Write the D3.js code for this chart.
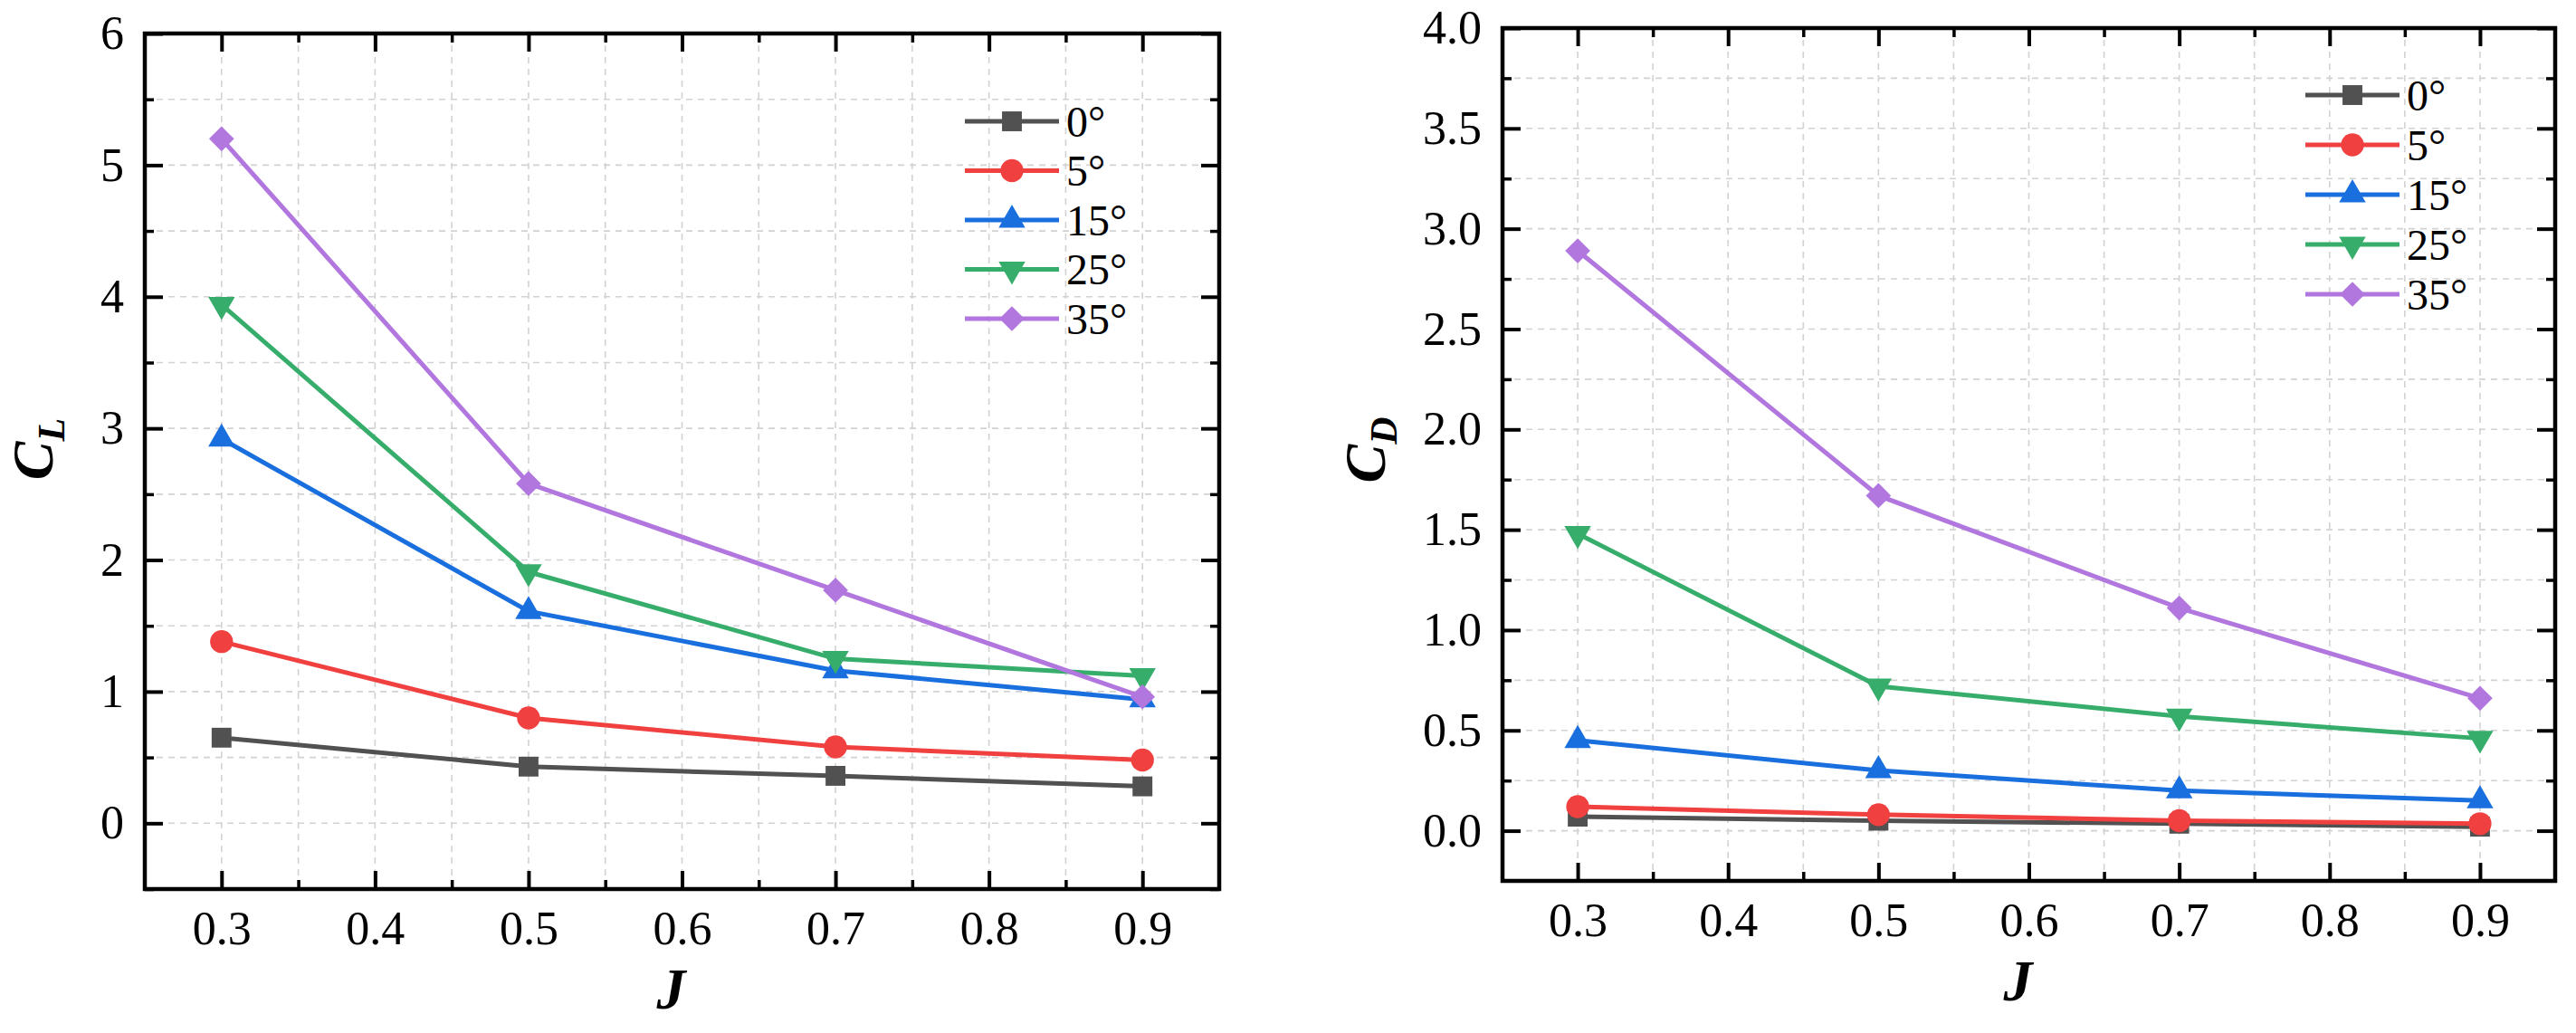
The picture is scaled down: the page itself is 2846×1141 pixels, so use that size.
<!DOCTYPE html>
<html>
<head>
<meta charset="utf-8">
<script src="https://cdn.jsdelivr.net/npm/d3@7"></script>
<style>
  body { margin: 0; background: #fff; }
  svg text { font-family: "Liberation Serif", "Times New Roman", serif; fill: #000; }
</style>
</head>
<body>
<div id="chart"></div>
<script>
// advance ratio J and the flap angles
const J = [0.3, 0.5, 0.7, 0.9];
const angles = ["0°", "5°", "15°", "25°", "35°"];
const colors = ["#515151", "#F14040", "#1A6FDF", "#37AD6B", "#B177DE"];

// lift coefficient, one array per angle
const CL_0 = [0.65, 0.43, 0.36, 0.28];
const CL_5 = [1.38, 0.80, 0.58, 0.48];
const CL_15 = [2.92, 1.61, 1.16, 0.94];
const CL_25 = [3.94, 1.91, 1.25, 1.12];
const CL_35 = [5.20, 2.58, 1.77, 0.96];

// drag coefficient
const CD_0 = [0.07, 0.05, 0.035, 0.02];
const CD_5 = [0.12, 0.08, 0.05, 0.035];
const CD_15 = [0.45, 0.30, 0.20, 0.15];
const CD_25 = [1.48, 0.72, 0.57, 0.46];
const CD_35 = [2.89, 1.67, 1.11, 0.66];

// ticks
const jTicks = [0.3, 0.4, 0.5, 0.6, 0.7, 0.8, 0.9];
const jMinor = [0.35, 0.45, 0.55, 0.65, 0.75, 0.85];
const clTicks = [0, 1, 2, 3, 4, 5, 6];
const clMinor = [-0.5, 0.5, 1.5, 2.5, 3.5, 4.5, 5.5];
const cdTicks = [0, 0.5, 1, 1.5, 2, 2.5, 3, 3.5, 4];
const cdMinor = [0.25, 0.75, 1.25, 1.75, 2.25, 2.75, 3.25, 3.75];

const W = 2846, H = 1141;
const FONT = '"Liberation Serif", "Times New Roman", serif';
const svg = d3.select("#chart").append("svg")
    .attr("width", W).attr("height", H);

function marker(i, size) {
    if (i == 0) return d3.symbol(d3.symbolSquare, size)();
    if (i == 1) return d3.symbol(d3.symbolCircle, size * 1.05)();
    if (i == 2 || i == 3) return d3.symbol(d3.symbolTriangle, size * 0.78)();
    return d3.symbol(d3.symbolSquare, size * 0.8)();
}
function markerRot(i) {
    if (i == 3) return " rotate(180)";
    if (i == 4) return " rotate(45)";
    return "";
}

function panel(opt) {
    const x = d3.scaleLinear().domain([0.25, 0.95]).range([opt.left, opt.right]);
    const y = d3.scaleLinear().domain(opt.yDomain).range([opt.bottom, opt.top]);
    const g = svg.append("g");

    // dashed grid
    const grid = g.append("g");
    grid.selectAll("line.v").data(jTicks.concat(jMinor)).enter().append("line")
        .attr("x1", d => x(d)).attr("x2", d => x(d))
        .attr("y1", opt.top).attr("y2", opt.bottom);
    grid.selectAll("line.h").data(opt.yTicks.concat(opt.yMinor)
            .filter(d => d > opt.yDomain[0] && d < opt.yDomain[1])).enter().append("line")
        .attr("x1", opt.left).attr("x2", opt.right)
        .attr("y1", d => y(d)).attr("y2", d => y(d));
    grid.selectAll("line")
        .attr("stroke", "#d2d2d2").attr("stroke-width", 1.6)
        .attr("stroke-dasharray", "7,6");

    // axes with inward ticks
    const h = opt.bottom - opt.top;
    const w = opt.right - opt.left;
    function styleAxis(sel, width) {
        sel.attr("font-family", FONT);
        sel.select(".domain").remove();
        sel.selectAll(".tick line").attr("stroke", "#000").attr("stroke-width", width);
        sel.selectAll("text").style("font-size", "52px").style("font-family", FONT).attr("fill", "#000");
    }
    g.append("g").attr("transform", `translate(0,${opt.bottom})`)
        .call(d3.axisBottom(x).tickValues(jTicks).tickSize(-20).tickPadding(24).tickFormat(d3.format(".1f")))
        .call(s => styleAxis(s, 4));
    g.append("g").attr("transform", `translate(0,${opt.bottom})`)
        .call(d3.axisBottom(x).tickValues(jMinor).tickSize(-10).tickFormat(""))
        .call(s => styleAxis(s, 3.5));
    g.append("g").attr("transform", `translate(0,${opt.top})`)
        .call(d3.axisTop(x).tickValues(jTicks).tickSize(-20).tickFormat(""))
        .call(s => styleAxis(s, 4));
    g.append("g").attr("transform", `translate(0,${opt.top})`)
        .call(d3.axisTop(x).tickValues(jMinor).tickSize(-10).tickFormat(""))
        .call(s => styleAxis(s, 3.5));
    g.append("g").attr("transform", `translate(${opt.left},0)`)
        .call(d3.axisLeft(y).tickValues(opt.yTicks).tickSize(-20).tickPadding(23).tickFormat(opt.fmt))
        .call(s => styleAxis(s, 4));
    g.append("g").attr("transform", `translate(${opt.left},0)`)
        .call(d3.axisLeft(y).tickValues(opt.yMinor).tickSize(-10).tickFormat(""))
        .call(s => styleAxis(s, 3.5));
    g.append("g").attr("transform", `translate(${opt.right},0)`)
        .call(d3.axisRight(y).tickValues(opt.yTicks).tickSize(-20).tickFormat(""))
        .call(s => styleAxis(s, 4));
    g.append("g").attr("transform", `translate(${opt.right},0)`)
        .call(d3.axisRight(y).tickValues(opt.yMinor).tickSize(-10).tickFormat(""))
        .call(s => styleAxis(s, 3.5));

    g.append("rect")
        .attr("x", opt.left).attr("y", opt.top)
        .attr("width", w).attr("height", h)
        .attr("fill", "none").attr("stroke", "#000").attr("stroke-width", 4.5);

    // series
    const line = d3.line().x((d, k) => x(J[k])).y(d => y(d));
    opt.series.forEach((vals, i) => {
        g.append("path").datum(vals)
            .attr("d", line)
            .attr("fill", "none").attr("stroke", colors[i]).attr("stroke-width", 5);
        g.selectAll(null).data(vals).enter().append("path")
            .attr("d", marker(i, 480))
            .attr("transform", (d, k) => `translate(${x(J[k])},${y(d)})` + markerRot(i))
            .attr("fill", colors[i]);
    });

    // legend
    const lg = g.append("g");
    angles.forEach((a, i) => {
        const ly = opt.legY + i * opt.legStep;
        lg.append("line")
            .attr("x1", opt.legX).attr("x2", opt.legX + 104)
            .attr("y1", ly).attr("y2", ly)
            .attr("stroke", colors[i]).attr("stroke-width", 5);
        lg.append("path")
            .attr("d", marker(i, 480))
            .attr("transform", `translate(${opt.legX + 52},${ly})` + markerRot(i))
            .attr("fill", colors[i]);
        lg.append("text")
            .attr("x", opt.legX + 112).attr("y", ly).attr("dy", "0.35em")
            .style("font-size", "48px").text(a);
    });

    // axis titles
    g.append("text")
        .attr("x", (opt.left + opt.right) / 2 - 12).attr("y", opt.bottom + 132)
        .attr("text-anchor", "middle")
        .style("font-size", "64px").style("font-weight", "bold").style("font-style", "italic")
        .text("J");
    const yl = g.append("text")
        .attr("transform", `translate(${opt.yLabX},${opt.yLabY}) rotate(-90)`)
        .attr("text-anchor", "middle")
        .style("font-size", "64px").style("font-weight", "bold").style("font-style", "italic");
    yl.append("tspan").text("C");
    yl.append("tspan").attr("dy", "0.3em").style("font-size", "42px").text(opt.sub);
}

panel({
    left: 160, right: 1347, top: 37, bottom: 982,
    yDomain: [-0.5, 6], yTicks: clTicks, yMinor: clMinor, fmt: d3.format("d"),
    series: [CL_0, CL_5, CL_15, CL_25, CL_35],
    legX: 1066, legY: 134, legStep: 54.5,
    yLabX: 58, yLabY: 496, sub: "L"
});
panel({
    left: 1660, right: 2823, top: 31, bottom: 973,
    yDomain: [-0.25, 4], yTicks: cdTicks, yMinor: cdMinor, fmt: d3.format(".1f"),
    series: [CD_0, CD_5, CD_15, CD_25, CD_35],
    legX: 2547, legY: 105, legStep: 55,
    yLabX: 1530, yLabY: 497, sub: "D"
});
</script>
</body>
</html>
